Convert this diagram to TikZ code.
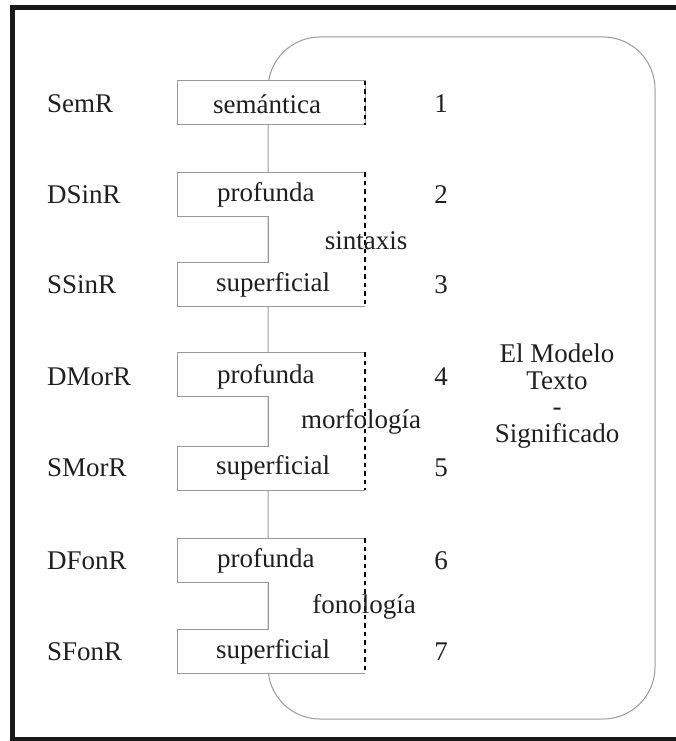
\documentclass[tikz,border=0pt]{standalone}
\usepackage{fontspec}
\setmainfont{Liberation Serif}
\begin{document}
\begin{tikzpicture}[x=1pt,y=-1pt,
  txt/.style={font=\fontsize{27}{28}\selectfont, text=black!88, inner sep=0pt},
  lev/.style={txt, anchor=west},
  num/.style={txt},
  frameline/.style={draw=black!90, line width=5pt},
  thin/.style={draw=black!40, line width=1pt},
  boxfill/.style={thin, fill=white},
  edge/.style={draw=black, line width=2.6pt, dash pattern=on 4.5pt off 4pt}]
\useasboundingbox (0,0) rectangle (675,741);
% outer frame (open to the right)
\draw[frameline] (12.5,7.5) rectangle (700,739.5);
% the model container
\draw[thin, rounded corners=52pt] (268,37) rectangle (655,719);

% semantic level box
\coordinate (semTop) at (365,81);
\coordinate (semBot) at (365,125);
\draw[boxfill] (177,81) rectangle (365,125);
\draw[edge] (semTop) -- (semBot);

% paired levels: deep box, notch, surface box
\foreach \t/\b/\nm in {172/306/sin, 352/490/mor, 538/673/fon}{
  \coordinate (\nm Top) at (365,\t);
  \coordinate (\nm Bot) at (365,\b);
  \draw[boxfill] (\nm Top) -- (177,\t) -- (177,\t+44) -- (268,\t+44)
     -- (268,\b-44) -- (177,\b-44) -- (177,\b) -- (\nm Bot);
  \draw[edge] (\nm Top) -- (\nm Bot);
}

% row labels
\node[lev] (r1) at (47,104) {SemR};
\node[lev] (r2) at (47,195) {DSinR};
\node[lev] (r3) at (47,285) {SSinR};
\node[lev] (r4) at (47,377) {DMorR};
\node[lev] (r5) at (47,468) {SMorR};
\node[lev] (r6) at (47,561) {DFonR};
\node[lev] (r7) at (47,652) {SFonR};

% box texts
\node[lev] (b1) at (213,104) {semántica};
\node[lev] (b2) at (217,195) {profunda};
\node[lev] (b3) at (216,285) {superficial};
\node[lev] (b4) at (217,377) {profunda};
\node[lev] (b5) at (216,468) {superficial};
\node[lev] (b6) at (217,561) {profunda};
\node[lev] (b7) at (216,652) {superficial};

% component labels
\node[txt] (c1) at (366,241) {sintaxis};
\node[txt] (c2) at (361,422) {morfología};
\node[txt] (c3) at (364,607) {fonología};

% numbers
\node[num] (n1) at (441,104) {1};
\node[num] (n2) at (441,195) {2};
\node[num] (n3) at (441,285) {3};
\node[num] (n4) at (441,377) {4};
\node[num] (n5) at (441,468) {5};
\node[num] (n6) at (441,561) {6};
\node[num] (n7) at (441,652) {7};

% title
\node[txt, align=center, font=\fontsize{27}{26.5}\selectfont] (title) at (557,396)
  {El Modelo\\Texto\\-\\Significado};
\end{tikzpicture}
\end{document}
